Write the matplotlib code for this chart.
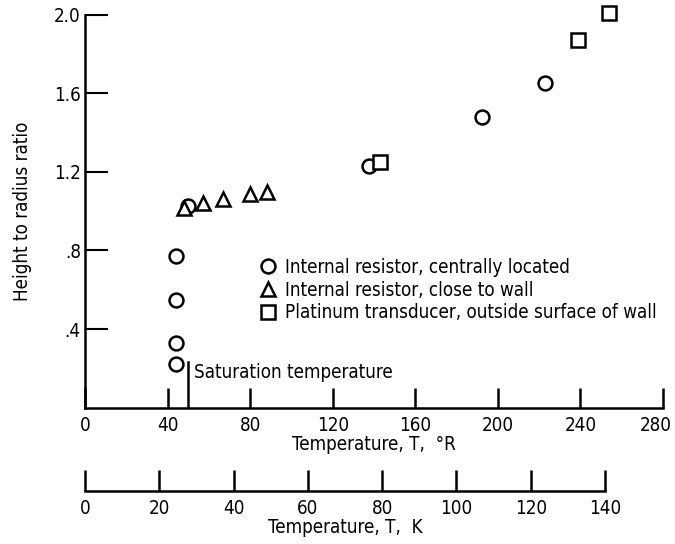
import matplotlib
matplotlib.use("Agg")
import matplotlib.pyplot as plt
from matplotlib.transforms import ScaledTranslation

plt.rcParams['font.family'] = ['DejaVu Sans']
plt.rcParams['font.stretch'] = 'condensed'

# Data
circle_T = [44, 44, 44, 44, 50, 137.5, 192.5, 223]
circle_h = [0.22, 0.33, 0.55, 0.77, 1.025, 1.23, 1.48, 1.65]

tri_T = [48, 57, 67, 80, 88]
tri_h = [1.015, 1.04, 1.06, 1.085, 1.10]

sq_T = [143, 239, 254]
sq_h = [1.25, 1.87, 2.01]

sat_T = 50
sat_top = 0.23

r_ticks = [0, 40, 80, 120, 160, 200, 240, 280]
k_ticks = [0, 20, 40, 60, 80, 100, 120, 140]
y_ticks = [0.4, 0.8, 1.2, 1.6, 2.0]
y_labels = ['.4', '.8', '1.2', '1.6', '2.0']

legend_labels = ['Internal resistor, centrally located',
                 'Internal resistor, close to wall',
                 'Platinum transducer, outside surface of wall']

fs = 13.5
fig = plt.figure(figsize=(6.75, 5.44), dpi=100)

# main axes
ax = fig.add_axes([0.1259, 0.2506, 0.8563, 0.7224])
ax.set_xlim(0, 280)
ax.set_ylim(0, 2.0)
for s in ['top', 'right']:
    ax.spines[s].set_visible(False)
for s in ['left', 'bottom']:
    ax.spines[s].set_linewidth(1.8)
ax.set_xticks(r_ticks)
ax.set_yticks(y_ticks)
ax.set_yticklabels(y_labels)
ax.tick_params(axis='x', direction='in', length=14.5, width=1.8, labelsize=fs, pad=6)
ax.tick_params(axis='y', direction='in', length=16.5, width=1.5, labelsize=fs, pad=3)
ax.set_xlabel('Temperature, T,  °R', fontsize=fs, labelpad=0)
ax.set_ylabel('Height to radius ratio', fontsize=fs, labelpad=16)

# last tick label sits a little left, as in the original
lbl = ax.get_xticklabels()[-1]
lbl.set_transform(lbl.get_transform() + ScaledTranslation(-7 / 100, 0, fig.dpi_scale_trans))

mk = dict(linestyle='none', markerfacecolor='white', markeredgecolor='black',
          markeredgewidth=1.8, clip_on=False)
h1, = ax.plot(circle_T, circle_h, marker='o', markersize=10, **mk)
h2, = ax.plot(tri_T, tri_h, marker='^', markersize=10, **mk)
h3, = ax.plot(sq_T, sq_h, marker='s', markersize=9.5, **mk)

# saturation temperature marker
ax.plot([sat_T, sat_T], [0, sat_top], color='black', lw=1.8)
ax.text(sat_T + 3, sat_top - 0.005, 'Saturation temperature', fontsize=fs,
        va='top', ha='left')

ax.legend([h1, h2, h3], legend_labels, loc='upper left',
          bbox_to_anchor=(0.287, 0.40), frameon=False, fontsize=fs,
          handletextpad=0.4, labelspacing=0.2, handlelength=1.0,
          borderaxespad=0)

# Kelvin scale
ax2 = fig.add_axes([0.1259, 0.0974, 0.7704, 0.05])
ax2.set_xlim(0, 140)
ax2.set_ylim(0, 1)
for s in ['top', 'right', 'left']:
    ax2.spines[s].set_visible(False)
ax2.spines['bottom'].set_linewidth(1.8)
ax2.set_yticks([])
ax2.patch.set_alpha(0)
ax2.set_xticks(k_ticks)
ax2.tick_params(axis='x', direction='in', length=15, width=1.8, labelsize=fs, pad=6)
ax2.set_xlabel('Temperature, T,  K', fontsize=fs, labelpad=0)

fig.savefig('out.png', dpi=100)
